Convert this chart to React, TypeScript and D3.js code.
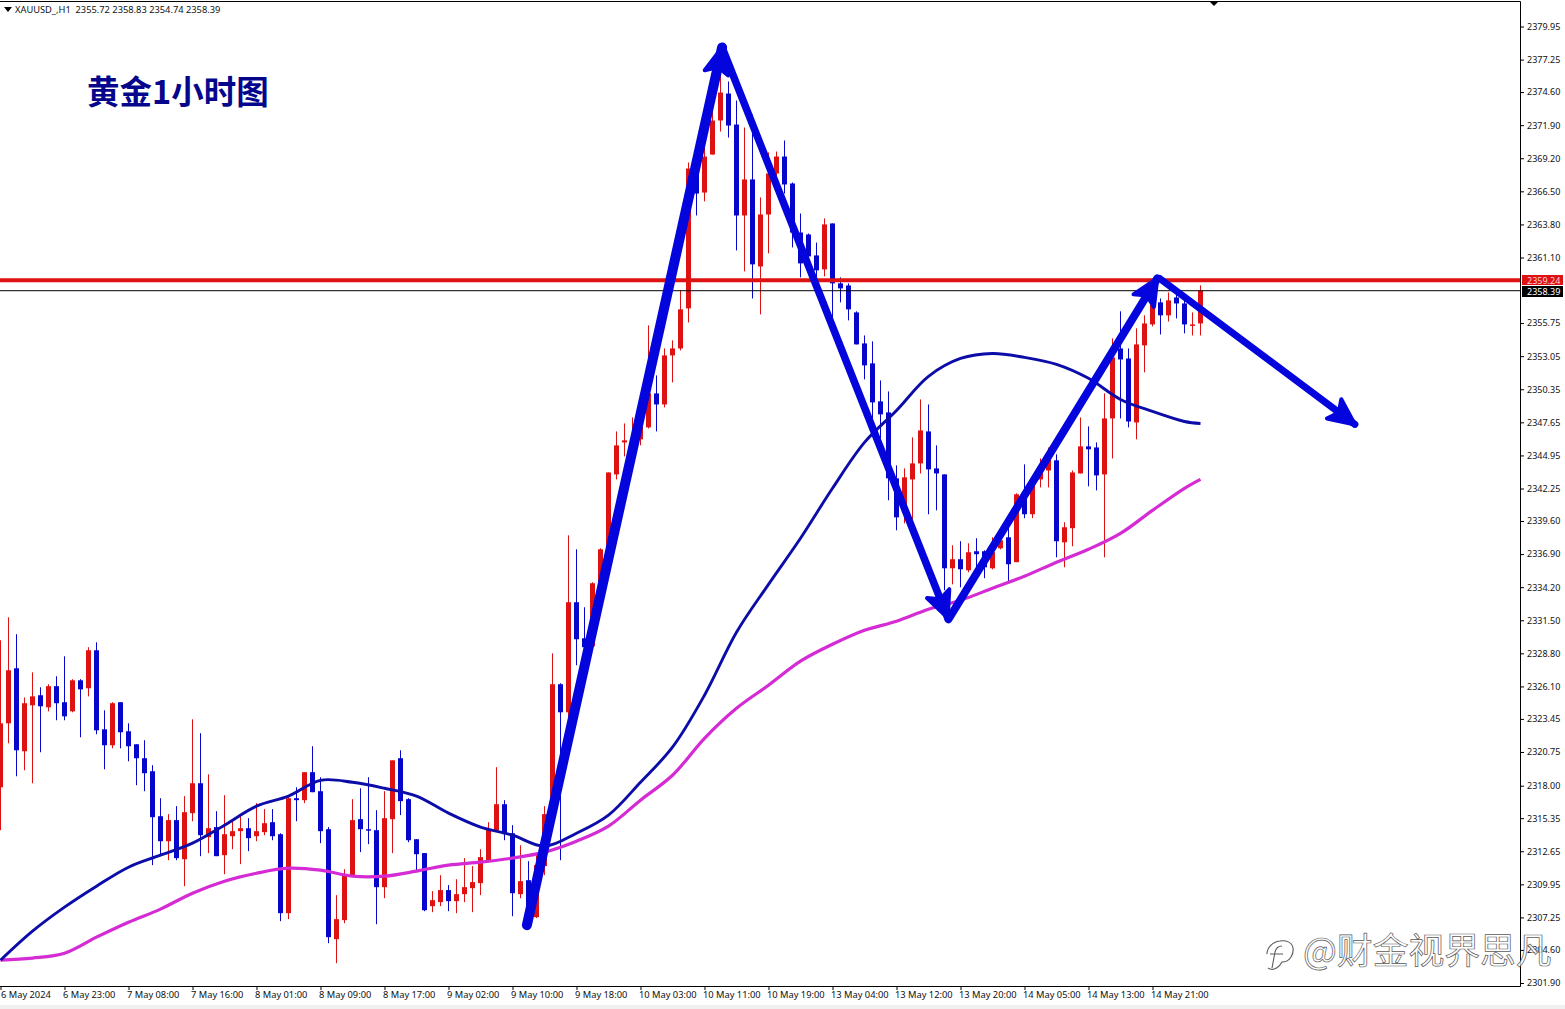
import React, { useEffect, useRef } from 'react'
import * as d3 from 'd3'

const WIDTH = 1565
const HEIGHT = 1009
const PLOT_RIGHT = 1520
const PLOT_BOTTOM = 986

const opens = [2317.87,2323.09,2327.58,2320.81,2324.56,2325.38,2324.40,2326.12,2324.81,2324.07,2326.60,2325.95,2329.05,2322.60,2321.30,2324.81,2322.44,2321.38,2320.24,2319.18,2315.51,2313.47,2315.19,2312.00,2315.76,2318.20,2313.80,2314.62,2312.33,2313.88,2314.29,2314.53,2313.88,2314.21,2315.02,2314.04,2307.60,2316.98,2316.82,2319.10,2317.55,2314.45,2305.48,2307.03,2310.70,2315.27,2314.45,2314.37,2309.72,2315.27,2320.24,2316.90,2313.63,2312.50,2308.17,2308.50,2309.48,2308.58,2309.15,2309.64,2310.05,2311.92,2314.37,2316.49,2314.12,2309.15,2310.29,2307.27,2311.44,2315.76,2326.28,2323.99,2332.97,2330.03,2329.38,2334.35,2337.21,2343.40,2346.01,2346.09,2346.26,2347.24,2350.01,2349.11,2353.11,2353.68,2356.95,2368.36,2366.40,2369.50,2372.28,2374.48,2371.95,2364.53,2367.47,2360.37,2364.61,2367.96,2369.34,2367.14,2363.14,2362.98,2361.27,2360.13,2363.88,2358.99,2358.82,2356.62,2354.09,2352.46,2349.36,2348.46,2343.08,2340.47,2342.99,2344.30,2346.91,2343.89,2343.40,2335.74,2336.48,2335.58,2337.13,2337.13,2335.74,2337.37,2338.27,2336.24,2341.53,2340.15,2342.99,2343.72,2344.55,2337.86,2339.01,2343.48,2345.69,2345.60,2343.40,2347.97,2353.68,2352.86,2347.64,2353.93,2355.64,2357.44,2356.38,2357.84,2357.35,2355.60,2355.72]
const highs = [2329.87,2331.74,2330.36,2325.20,2327.25,2326.03,2326.28,2326.93,2328.56,2326.69,2326.69,2329.30,2329.70,2324.15,2324.81,2324.81,2323.09,2321.38,2321.71,2319.67,2316.98,2315.68,2316.33,2317.15,2323.42,2322.28,2318.93,2315.92,2317.23,2315.19,2315.60,2315.35,2316.58,2316.09,2316.09,2314.12,2317.07,2317.87,2319.10,2321.22,2318.69,2314.62,2309.07,2311.19,2316.90,2317.79,2318.69,2316.00,2317.55,2320.07,2320.89,2316.98,2313.63,2312.50,2309.39,2310.70,2309.89,2310.37,2312.09,2311.44,2312.82,2315.02,2319.51,2316.82,2314.78,2313.14,2311.84,2312.33,2316.33,2328.80,2326.36,2338.43,2337.29,2332.56,2334.60,2337.37,2343.56,2346.91,2347.56,2348.05,2347.56,2355.56,2351.48,2353.68,2354.34,2358.42,2368.85,2368.44,2370.40,2373.50,2376.36,2375.46,2373.91,2371.71,2372.77,2366.00,2369.67,2369.75,2370.65,2367.22,2364.69,2363.06,2362.32,2364.29,2363.88,2359.48,2358.99,2356.71,2354.74,2354.26,2351.07,2350.17,2344.14,2343.89,2346.42,2349.52,2349.11,2345.77,2343.40,2337.62,2337.95,2337.78,2338.19,2337.21,2338.27,2338.84,2339.09,2341.86,2344.22,2342.68,2344.70,2345.60,2345.04,2339.50,2343.72,2348.05,2347.32,2346.01,2350.01,2354.50,2356.71,2353.68,2355.32,2356.38,2357.60,2357.76,2358.25,2358.25,2357.60,2356.62,2358.83]
const lows = [2314.37,2321.46,2318.77,2319.26,2318.20,2320.73,2324.07,2323.34,2323.34,2323.99,2321.95,2325.29,2322.20,2319.34,2321.05,2321.05,2319.99,2318.04,2317.55,2311.52,2312.33,2311.92,2311.92,2309.80,2315.10,2312.25,2312.50,2312.25,2310.78,2312.82,2311.60,2312.66,2313.47,2313.96,2313.55,2306.95,2307.11,2315.10,2316.58,2317.47,2313.31,2305.15,2303.52,2306.78,2310.54,2312.58,2313.23,2306.70,2308.82,2312.50,2315.60,2313.39,2311.11,2307.76,2307.68,2308.17,2307.76,2307.60,2308.50,2307.68,2309.07,2311.92,2314.37,2313.55,2307.35,2308.82,2307.03,2307.19,2310.70,2315.19,2311.92,2323.09,2327.83,2328.88,2329.21,2334.19,2337.13,2342.99,2344.87,2345.60,2345.77,2347.15,2346.91,2348.87,2350.91,2353.52,2355.80,2364.53,2365.68,2369.50,2371.38,2370.89,2361.68,2359.97,2357.76,2356.46,2361.44,2367.39,2366.32,2361.92,2359.48,2360.29,2359.48,2359.56,2356.13,2357.44,2355.97,2354.01,2351.16,2346.99,2346.34,2341.29,2338.84,2339.41,2338.84,2343.48,2340.15,2340.47,2333.95,2334.43,2334.19,2335.42,2335.82,2334.93,2335.66,2337.29,2334.60,2336.24,2339.83,2339.83,2342.34,2342.34,2336.64,2335.82,2337.54,2343.48,2342.43,2342.10,2336.64,2344.70,2347.97,2347.24,2346.26,2351.73,2355.48,2354.82,2355.88,2356.13,2354.91,2354.74,2354.74]
const closes = [2323.09,2327.42,2320.89,2324.73,2325.29,2324.48,2326.12,2324.73,2323.66,2326.60,2325.86,2329.05,2322.52,2321.30,2324.73,2322.36,2321.22,2320.24,2319.02,2315.43,2313.47,2315.19,2312.09,2315.84,2318.20,2313.96,2314.53,2312.25,2314.04,2314.29,2314.53,2313.72,2314.29,2314.94,2313.88,2307.60,2316.98,2316.82,2319.10,2317.47,2314.29,2305.64,2307.11,2310.70,2315.19,2314.45,2314.37,2309.72,2315.35,2320.07,2316.74,2313.55,2312.41,2307.84,2308.66,2309.48,2308.58,2309.15,2309.72,2310.13,2312.17,2314.37,2316.49,2314.04,2309.23,2310.21,2307.27,2311.52,2315.68,2326.28,2323.99,2332.97,2329.95,2329.30,2334.52,2337.29,2343.56,2345.77,2346.18,2346.18,2347.32,2350.01,2349.11,2353.11,2353.68,2356.87,2368.36,2366.32,2369.34,2372.28,2374.56,2371.87,2364.53,2367.47,2360.54,2364.61,2367.96,2369.34,2367.06,2363.14,2360.62,2361.19,2360.05,2363.80,2358.99,2358.58,2356.87,2354.01,2352.30,2349.28,2348.30,2343.08,2339.90,2343.16,2344.30,2346.99,2343.81,2343.48,2335.74,2336.48,2335.66,2337.05,2336.89,2335.82,2337.05,2338.02,2336.07,2341.78,2340.15,2342.51,2343.97,2344.78,2337.95,2339.09,2343.56,2345.69,2345.45,2343.32,2347.97,2352.95,2352.78,2347.72,2354.01,2355.72,2357.44,2356.38,2357.60,2357.35,2355.64,2355.64,2358.39]

// moving averages read every 4th bar, and the last bar
const maBars = d3.range(0, 150, 4).concat(150)
const blueMa = [2303.76,2306.13,2308.09,2309.80,2311.35,2312.33,2313.31,2314.78,2316.33,2317.15,2318.44,2318.28,2317.79,2317.15,2315.76,2314.62,2313.96,2313.06,2314.12,2315.60,2318.28,2321.14,2325.38,2330.52,2334.43,2338.19,2342.27,2346.01,2348.62,2351.40,2352.86,2353.27,2352.95,2352.38,2351.24,2349.52,2348.54,2347.72,2347.56]
const pinkMa = [2303.76,2303.93,2304.33,2305.64,2306.86,2307.93,2309.23,2310.21,2310.86,2311.27,2311.11,2310.62,2310.62,2311.03,2311.52,2311.76,2312.09,2312.58,2313.47,2314.70,2316.82,2318.85,2321.87,2324.32,2326.20,2328.16,2329.54,2330.68,2331.42,2332.40,2333.13,2334.11,2335.09,2336.24,2337.29,2338.59,2340.47,2342.27,2343.00]

const priceTicks = [2379.95,2377.25,2374.60,2371.90,2369.20,2366.50,2363.80,2361.10,2355.75,2353.05,2350.35,2347.65,2344.95,2342.25,2339.60,2336.90,2334.20,2331.50,2328.80,2326.10,2323.45,2320.75,2318.00,2315.35,2312.65,2309.95,2307.25,2304.60,2301.90]
const timeLabels = ['6 May 2024','6 May 23:00','7 May 08:00','7 May 16:00','8 May 01:00','8 May 09:00','8 May 17:00','9 May 02:00','9 May 10:00','9 May 18:00','10 May 03:00','10 May 11:00','10 May 19:00','13 May 04:00','13 May 12:00','13 May 20:00','14 May 05:00','14 May 13:00','14 May 21:00']

const levelPrice = 2359.24
const lastPrice = 2358.39

// hand drawn arrows, as [bar, price, bar, price, stroke width]
const arrows: [number, number, number, number, number][] = [
  [65.8, 2306.62, 90.2, 2378.24, 10],
  [90.2, 2378.24, 118.4, 2331.7, 7.5],
  [118.5, 2331.58, 144.6, 2359.39, 8],
  [144.9, 2359.39, 169.3, 2347.48, 7],
]

const RED = '#de1212'
const BLUE = '#0505cc'
const ARROW = '#0404dc'

const x = d3.scaleLinear().domain([0, 150]).range([0.5, 1200.5])
const y = d3.scaleLinear().domain([2379.95, 2301.9]).range([26.5, 983])

function arrowHead(x0: number, y0: number, x1: number, y1: number) {
  const a = Math.atan2(y1 - y0, x1 - x0)
  const back = 26
  const half = 12
  const pt = (b: number, s: number) => [
    x1 - b * Math.cos(a) - s * Math.sin(a),
    y1 - b * Math.sin(a) + s * Math.cos(a),
  ]
  return d3.line()([[x1, y1], pt(back, half), pt(back - 6, 0), pt(back, -half)] as [number, number][]) + 'Z'
}

export default function App() {
  const rightAxis = useRef<SVGGElement>(null)
  const bottomAxis = useRef<SVGGElement>(null)

  useEffect(() => {
    const r = d3.select(rightAxis.current!)
    r.call(d3.axisRight(y).tickValues(priceTicks).tickSize(4).tickPadding(3).tickFormat(d3.format('.2f')) as any)
    r.select('.domain').remove()
    r.selectAll('text').attr('font-family', '"Noto Sans"').attr('font-size', 9).attr('fill', '#111')
    r.selectAll('line').attr('stroke', '#000')

    const b = d3.select(bottomAxis.current!)
    b.call(
      d3.axisBottom(d3.scaleLinear().domain([0, 18]).range([0.5, 1152.5]))
        .tickValues(d3.range(19))
        .tickSize(4)
        .tickPadding(1)
        .tickFormat((_, i) => timeLabels[i]) as any,
    )
    b.select('.domain').remove()
    b.selectAll('text')
      .attr('text-anchor', 'start')
      .attr('dx', (_, i) => (i === 0 ? 0 : -2))
      .attr('font-family', '"Noto Sans"')
      .attr('font-size', 9.3)
      .attr('fill', '#111')
    b.selectAll('line').attr('stroke', '#000')
  }, [])

  const maLine = d3
    .line<number>()
    .x((_, i) => x(maBars[i]))
    .y((d) => y(d))
    .curve(d3.curveCatmullRom.alpha(0.5))

  return (
    <svg
      width={WIDTH}
      height={HEIGHT}
      style={{ position: 'absolute', left: 0, top: 0, display: 'block', background: '#fff' }}
    >
      <rect x={0} y={1005} width={WIDTH} height={4} fill="#f0f0f0" />

      {/* candles */}
      <g>
        {opens.map((o, i) => {
          const c = closes[i]
          const col = c >= o ? RED : BLUE
          const top = y(Math.max(o, c))
          const bot = y(Math.min(o, c))
          return (
            <g key={i} fill={col}>
              <rect x={x(i) - 0.5} y={y(highs[i])} width={1} height={y(lows[i]) - y(highs[i])} />
              <rect x={x(i) - 2.5} y={top} width={5} height={Math.max(bot - top, 1.5)} />
            </g>
          )
        })}
      </g>

      {/* moving averages */}
      <path d={maLine(pinkMa)!} fill="none" stroke="#d42bd4" strokeWidth={3.2} />
      <path d={maLine(blueMa)!} fill="none" stroke="#0c0ca8" strokeWidth={2.9} />

      {/* price lines */}
      <line x1={0} x2={PLOT_RIGHT} y1={y(lastPrice)} y2={y(lastPrice)} stroke="#000" strokeWidth={1} />
      <line x1={0} x2={PLOT_RIGHT} y1={y(levelPrice)} y2={y(levelPrice)} stroke={RED} strokeWidth={4} />

      {/* frame */}
      <path d={`M0,1.5H${PLOT_RIGHT + 0.5}V${PLOT_BOTTOM + 0.5}H0`} fill="none" stroke="#000" strokeWidth={1} />
      <path d="M1209,1L1219,1L1214,6Z" fill="#000" />

      <g ref={rightAxis} transform={`translate(${PLOT_RIGHT},0)`} />
      <g ref={bottomAxis} transform={`translate(0,${PLOT_BOTTOM})`} />

      {/* price tags */}
      <rect x={1522} y={275} width={41} height={10} fill={RED} />
      <text x={1527} y={283.5} fontFamily='"Noto Sans"' fontSize={9} fill="#ffd0d0">
        {levelPrice.toFixed(2)}
      </text>
      <rect x={1522} y={286} width={41} height={11} fill="#000" />
      <text x={1527} y={295} fontFamily='"Noto Sans"' fontSize={9} fill="#fff">
        {lastPrice.toFixed(2)}
      </text>

      {/* header */}
      <path d="M4,7L12,7L8,12Z" fill="#000" />
      <text x={15} y={13} fontFamily='"Noto Sans"' fontSize={9.3} fill="#111" style={{ whiteSpace: 'pre' }}>
        {'XAUUSD_,H1  2355.72 2358.83 2354.74 2358.39'}
      </text>
      <text
        x={87}
        y={104}
        fontFamily='"Noto Sans CJK SC"'
        fontWeight={700}
        fontSize={32.5}
        fill="#06068c"
      >
        黄金1小时图
      </text>

      {/* arrows */}
      <g stroke={ARROW} fill={ARROW} strokeLinecap="round" strokeLinejoin="round">
        {arrows.map(([b0, p0, b1, p1, w], i) => (
          <g key={i}>
            <line x1={x(b0)} y1={y(p0)} x2={x(b1)} y2={y(p1)} strokeWidth={w} />
            <path d={arrowHead(x(b0), y(p0), x(b1), y(p1))} strokeWidth={4} />
          </g>
        ))}
      </g>

      {/* watermark */}
      <g fill="#fff" fillOpacity={0.75} stroke="#5a5a5a" strokeWidth={0.7}>
        <path
          d="M1268,968C1274,972 1280,966 1282,962C1290,962 1294,954 1293,948C1292,942 1286,940 1280,941C1272,942 1267,948 1267,954M1282,946C1278,946 1276,948 1275,952L1272,968M1270,954L1283,954"
          fill="none"
          strokeWidth={1.1}
        />
        <text x={1303} y={964} fontFamily='"Noto Sans CJK SC"' fontSize={35.8}>
          @财金视界思凡
        </text>
      </g>
    </svg>
  )
}
